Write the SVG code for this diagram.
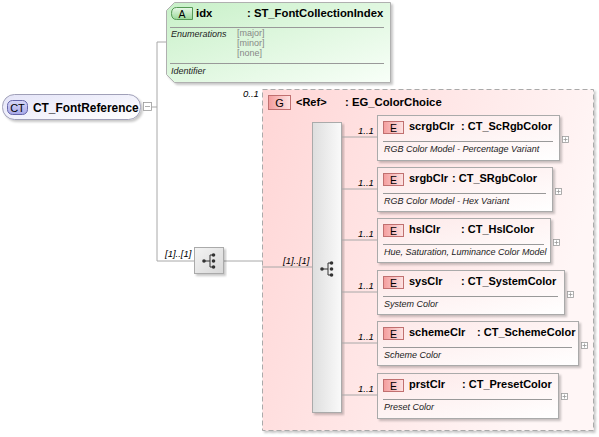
<svg xmlns="http://www.w3.org/2000/svg" width="599" height="437" viewBox="0 0 599 437">
<defs>
<linearGradient id="gCT" x1="0" y1="0" x2="1" y2="1"><stop offset="0" stop-color="#e4e4f8"/><stop offset="1" stop-color="#ffffff"/></linearGradient>
<linearGradient id="gCTb" x1="0" y1="0" x2="0" y2="1"><stop offset="0" stop-color="#d8d8f8"/><stop offset="1" stop-color="#a8a8e8"/></linearGradient>
<linearGradient id="gAttr" x1="0" y1="0" x2="1" y2="1"><stop offset="0" stop-color="#c8f0c8"/><stop offset="1" stop-color="#f8fff8"/></linearGradient>
<linearGradient id="gAb" x1="0" y1="0" x2="0" y2="1"><stop offset="0" stop-color="#e8f8e8"/><stop offset="1" stop-color="#98d898"/></linearGradient>
<linearGradient id="gGrp" x1="0" y1="0" x2="1" y2="0.3"><stop offset="0" stop-color="#ffd6d6"/><stop offset="1" stop-color="#fff6f6"/></linearGradient>
<linearGradient id="gEb" x1="0" y1="0" x2="1" y2="0"><stop offset="0" stop-color="#f49c9c"/><stop offset="1" stop-color="#fde4e4"/></linearGradient>
<linearGradient id="gEl" x1="0" y1="0" x2="1" y2="1"><stop offset="0" stop-color="#fde8e8"/><stop offset="1" stop-color="#ffffff"/></linearGradient>
<linearGradient id="gBar" x1="0" y1="0" x2="1" y2="0"><stop offset="0" stop-color="#dedede"/><stop offset="1" stop-color="#fafafa"/></linearGradient>
<linearGradient id="gCh" x1="0" y1="0" x2="1" y2="1"><stop offset="0" stop-color="#f4f4f4"/><stop offset="1" stop-color="#d8d8d8"/></linearGradient>
<filter id="sh" x="-5%" y="-5%" width="115%" height="120%"><feDropShadow dx="2" dy="2" stdDeviation="1" flood-color="#000" flood-opacity="0.22"/></filter>
<g id="chIcon">
<circle cx="0" cy="0" r="1.8" fill="#333"/>
<line x1="0" y1="0" x2="6" y2="0" stroke="#333" stroke-width="1"/>
<line x1="6" y1="-6" x2="6" y2="6" stroke="#333" stroke-width="1"/>
<line x1="6" y1="-6" x2="9" y2="-6" stroke="#333"/>
<line x1="6" y1="6" x2="9" y2="6" stroke="#333"/>
<circle cx="9.5" cy="-6" r="1.8" fill="#333"/>
<circle cx="9.5" cy="0" r="1.8" fill="#333"/>
<circle cx="9.5" cy="6" r="1.8" fill="#333"/>
</g>
</defs>
<style>
.t{font-family:"Liberation Sans",Arial,sans-serif;fill:#000}
.b{font-weight:bold;font-size:11px}
.d{font-style:italic;font-size:9px;fill:#222}
.m{font-style:italic;font-size:9.5px;fill:#000}
.en{font-size:9px;fill:#888}
.ln{stroke:#a8a8a8;stroke-width:1;fill:none}
.sep{stroke:#999;stroke-width:1}
.el{fill:url(#gEl);stroke:#aaa;stroke-width:1}
.eb{fill:url(#gEb);stroke:#c07070;stroke-width:1}
.pl{fill:#fff;stroke:#999;stroke-width:0.8}
.pls{stroke:#999;stroke-width:0.8}
</style>

<g id="connectors">
<line class="ln" x1="152" y1="107" x2="157" y2="107"/>
<line class="ln" x1="157" y1="42" x2="157" y2="261"/>
<line class="ln" x1="157" y1="42" x2="167" y2="42"/>
<line class="ln" x1="157" y1="261" x2="195" y2="261"/>
<line class="ln" x1="223" y1="261" x2="262" y2="261"/>
</g>

<g id="CT_FontReference">
<rect x="2.5" y="94.5" width="138" height="25" rx="12" ry="12" fill="url(#gCT)" stroke="#a0a0b8" filter="url(#sh)"/>
<rect x="7.5" y="100.5" width="20" height="14" rx="5" fill="url(#gCTb)" stroke="#6666aa"/>
<text class="t" x="17.5" y="112" font-size="11" text-anchor="middle" fill="#222">CT</text>
<text class="t b" x="33" y="112" style="font-size:11.9px">CT_FontReference</text>
<rect x="143.5" y="102.5" width="8" height="8" fill="#fff" stroke="#999" stroke-width="0.8"/>
<line x1="145" y1="106.5" x2="150" y2="106.5" stroke="#999" stroke-width="0.8"/>
</g>

<g id="idx">
<path d="M174.5,2.5 H390.5 V82.5 H174.5 L166.5,74.5 V10.5 Z" fill="url(#gAttr)" stroke="#b0b0b0" filter="url(#sh)"/>
<path d="M176.5,7.5 H192.5 V19.5 H176.5 Q171.5,19.5 171.5,13.5 Q171.5,7.5 176.5,7.5 Z" fill="url(#gAb)" stroke="#559955"/>
<text class="t" x="182" y="17.5" font-size="10.5" text-anchor="middle" fill="#222">A</text>
<text class="t b" x="196" y="17" style="font-size:11.3px">idx</text>
<text class="t b" x="247" y="17" style="font-size:11.3px">: ST_FontCollectionIndex</text>
<line class="sep" x1="170" y1="27.5" x2="384" y2="27.5"/>
<text class="t d" x="171" y="37">Enumerations</text>
<text class="t en" x="237" y="36">[major]</text>
<text class="t en" x="237" y="45.5">[minor]</text>
<text class="t en" x="237" y="55.5">[none]</text>
<line class="sep" x1="170" y1="63.5" x2="384" y2="63.5"/>
<text class="t d" x="171" y="73.5">Identifier</text>
</g>

<g id="choice1">
<text class="t m" x="165" y="257">[1]..[1]</text>
<rect x="194.5" y="247.5" width="29" height="26" fill="url(#gCh)" stroke="#aaa" filter="url(#sh)"/>
<use href="#chIcon" x="204" y="261"/>
</g>

<g id="EG_ColorChoice">
<text class="t m" x="243" y="97">0..1</text>
<rect x="262.5" y="89.5" width="331" height="341" fill="url(#gGrp)" stroke="#aaa" stroke-dasharray="5,3" filter="url(#sh)"/>
<rect x="268.5" y="95.5" width="22" height="14" fill="url(#gEb)" stroke="#c07070"/>
<text class="t" x="279.5" y="106.5" font-size="11" text-anchor="middle" fill="#222">G</text>
<text class="t b" x="296" y="105.5">&lt;Ref&gt;</text>
<text class="t b" x="345" y="105.5" style="font-size:11.3px">: EG_ColorChoice</text>
<line class="ln" x1="262" y1="267" x2="312" y2="267"/>
<text class="t m" x="283" y="264">[1]..[1]</text>
<rect x="312.5" y="122.5" width="29" height="290" fill="url(#gBar)" stroke="#aaa" filter="url(#sh)"/>
<use href="#chIcon" x="322" y="269"/>
<g class="ln">
<line x1="341" y1="137" x2="377" y2="137"/>
<line x1="341" y1="189" x2="377" y2="189"/>
<line x1="341" y1="240" x2="377" y2="240"/>
<line x1="341" y1="292" x2="377" y2="292"/>
<line x1="341" y1="343" x2="377" y2="343"/>
<line x1="341" y1="395" x2="377" y2="395"/>
</g>
</g>

<g id="scrgbClr">
<text class="t m" x="358" y="134">1..1</text>
<rect class="el" x="377.5" y="115.5" width="182" height="45" filter="url(#sh)"/>
<rect class="eb" x="383.5" y="121.5" width="20" height="12"/>
<text class="t" x="393.5" y="131.5" font-size="10.5" text-anchor="middle" fill="#222">E</text>
<text class="t b" x="409" y="130">scrgbClr</text>
<text class="t b" x="461" y="130">: CT_ScRgbColor</text>
<line class="sep" x1="383" y1="141.5" x2="553" y2="141.5"/>
<text class="t d" x="384" y="152">RGB Color Model - Percentage Variant</text>
<rect class="pl" x="562.5" y="136.5" width="6" height="6"/>
<path class="pls" d="M563.5,139.5 H567.5 M565.5,137.5 V141.5"/>
</g>

<g id="srgbClr">
<text class="t m" x="358" y="186">1..1</text>
<rect class="el" x="377.5" y="167.5" width="175" height="44" filter="url(#sh)"/>
<rect class="eb" x="383.5" y="173.5" width="20" height="12"/>
<text class="t" x="393.5" y="183.5" font-size="10.5" text-anchor="middle" fill="#222">E</text>
<text class="t b" x="409" y="182">srgbClr</text>
<text class="t b" x="452" y="182">: CT_SRgbColor</text>
<line class="sep" x1="383" y1="193.5" x2="546" y2="193.5"/>
<text class="t d" x="384" y="204">RGB Color Model - Hex Variant</text>
<rect class="pl" x="555.5" y="188.5" width="6" height="6"/>
<path class="pls" d="M556.5,191.5 H560.5 M558.5,189.5 V193.5"/>
</g>

<g id="hslClr">
<text class="t m" x="358" y="237">1..1</text>
<rect class="el" x="377.5" y="218.5" width="173" height="44" filter="url(#sh)"/>
<rect class="eb" x="383.5" y="224.5" width="20" height="12"/>
<text class="t" x="393.5" y="234.5" font-size="10.5" text-anchor="middle" fill="#222">E</text>
<text class="t b" x="409" y="233">hslClr</text>
<text class="t b" x="461" y="233">: CT_HslColor</text>
<line class="sep" x1="383" y1="244.5" x2="544" y2="244.5"/>
<text class="t d" x="384" y="255">Hue, Saturation, Luminance Color Model</text>
<rect class="pl" x="553.5" y="239.5" width="6" height="6"/>
<path class="pls" d="M554.5,242.5 H558.5 M556.5,240.5 V244.5"/>
</g>

<g id="sysClr">
<text class="t m" x="358" y="289">1..1</text>
<rect class="el" x="377.5" y="270.5" width="187" height="44" filter="url(#sh)"/>
<rect class="eb" x="383.5" y="276.5" width="20" height="12"/>
<text class="t" x="393.5" y="286.5" font-size="10.5" text-anchor="middle" fill="#222">E</text>
<text class="t b" x="409" y="285">sysClr</text>
<text class="t b" x="461" y="285">: CT_SystemColor</text>
<line class="sep" x1="383" y1="296.5" x2="558" y2="296.5"/>
<text class="t d" x="384" y="307">System Color</text>
<rect class="pl" x="567.5" y="291.5" width="6" height="6"/>
<path class="pls" d="M568.5,294.5 H572.5 M570.5,292.5 V296.5"/>
</g>

<g id="schemeClr">
<text class="t m" x="358" y="340">1..1</text>
<rect class="el" x="377.5" y="321.5" width="201" height="44" filter="url(#sh)"/>
<rect class="eb" x="383.5" y="327.5" width="20" height="12"/>
<text class="t" x="393.5" y="337.5" font-size="10.5" text-anchor="middle" fill="#222">E</text>
<text class="t b" x="409" y="336">schemeClr</text>
<text class="t b" x="477" y="336">: CT_SchemeColor</text>
<line class="sep" x1="383" y1="347.5" x2="572" y2="347.5"/>
<text class="t d" x="384" y="358">Scheme Color</text>
<rect class="pl" x="581.5" y="342.5" width="6" height="6"/>
<path class="pls" d="M582.5,345.5 H586.5 M584.5,343.5 V347.5"/>
</g>

<g id="prstClr">
<text class="t m" x="358" y="392">1..1</text>
<rect class="el" x="377.5" y="373.5" width="181" height="45" filter="url(#sh)"/>
<rect class="eb" x="383.5" y="379.5" width="20" height="12"/>
<text class="t" x="393.5" y="389.5" font-size="10.5" text-anchor="middle" fill="#222">E</text>
<text class="t b" x="409" y="388">prstClr</text>
<text class="t b" x="462" y="388">: CT_PresetColor</text>
<line class="sep" x1="383" y1="399.5" x2="552" y2="399.5"/>
<text class="t d" x="384" y="410">Preset Color</text>
<rect class="pl" x="561.5" y="393.5" width="6" height="6"/>
<path class="pls" d="M562.5,396.5 H566.5 M564.5,394.5 V398.5"/>
</g>
</svg>
